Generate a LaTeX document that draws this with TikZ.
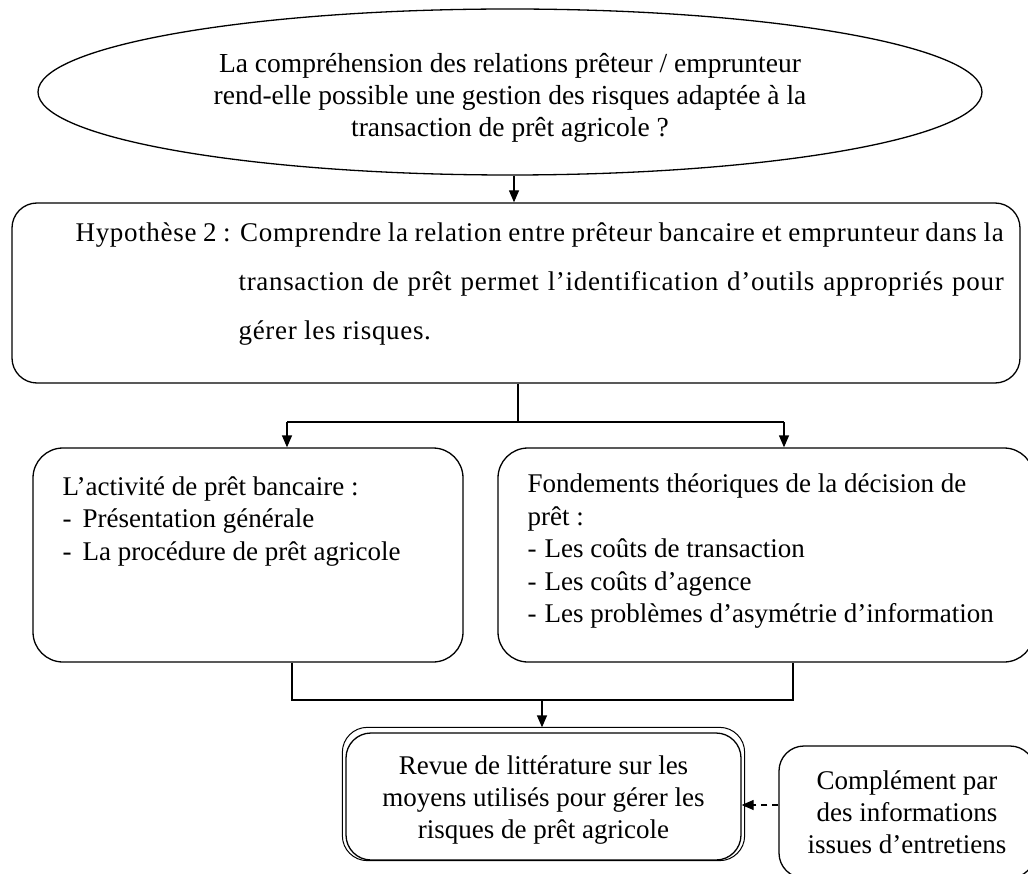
\documentclass[tikz,border=0pt]{standalone}
\usepackage{fontspec}
\setmainfont{Liberation Serif}
\usetikzlibrary{arrows.meta,shapes.geometric,calc}
\begin{document}
\begin{tikzpicture}[x=1pt,y=-1pt,
  line width=1.3pt,
  box/.style={draw,line width=1.3pt,rounded corners=#1,inner sep=0pt},
  txt/.style={inner sep=0pt,font=\fontsize{27}{32}\selectfont},
  wide/.style={inner sep=0pt,font=\fontsize{27}{32}\selectfont\addfontfeatures{LetterSpace=2.5}},
  arr/.style={-{Triangle[length=12pt,width=10pt]}},
]
\useasboundingbox (0,0) rectangle (1028,874);
\clip (0,0) rectangle (1028,874);

% question ellipse
\node[draw,ellipse,inner sep=0pt,minimum width=944pt,minimum height=166pt] (q) at (510,92) {};
\node[txt,align=center,font=\fontsize{27.5}{32}\selectfont] (qt) at (510,98) {La compréhension des relations prêteur / emprunteur\\rend-elle possible une gestion des risques adaptée à la\\transaction de prêt agricole ?};

% hypothesis box
\node[box=25pt,minimum width=1008pt,minimum height=180pt] (hyp) at (516,293) {};
\node[wide,anchor=base west] (h1) at (75,242) {\makebox[928pt][s]{Hypothèse 2 : Comprendre la relation entre prêteur bancaire et emprunteur dans la}};
\node[wide,anchor=base west] (h2) at (238,291) {\makebox[765pt][s]{transaction de prêt permet l’identification d’outils appropriés pour}};
\node[wide,anchor=base west] (h3) at (238,340) {gérer les risques.};

\draw[arr] (q.south -| 514,0) -- (hyp.north -| 514,0);

% two boxes
\node[box=30pt,minimum width=430pt,minimum height=214pt] (lb) at (248,555) {};
\node[box=30pt,minimum width=536pt,minimum height=214pt] (rb) at (766,555) {};

\coordinate (j1) at (518,422);
\draw (hyp.south -| j1) -- (j1);
\draw (287,422) -- (784,422);
\draw[arr] (287,422) -- (lb.north -| 287,0);
\draw[arr] (784,422) -- (rb.north -| 784,0);

\node[txt,anchor=base west] (l1) at (62,495) {L’activité de prêt bancaire :};
\node[txt,anchor=base west] (l2) at (62,527) {\makebox[20pt][l]{-}Présentation générale};
\node[txt,anchor=base west] (l3) at (62,560) {\makebox[20pt][l]{-}La procédure de prêt agricole};

\node[txt,anchor=base west] (r1) at (527,492) {Fondements théoriques de la décision de};
\node[txt,anchor=base west] (r2) at (527,525) {prêt :};
\node[txt,anchor=base west] (r3) at (527,557) {\makebox[17pt][l]{-}Les coûts de transaction};
\node[txt,anchor=base west] (r4) at (527,590) {\makebox[17pt][l]{-}Les coûts d’agence};
\node[txt,anchor=base west] (r5) at (527,622) {\makebox[17pt][l]{-}Les problèmes d’asymétrie d’information};

% bottom boxes
\node[box=25pt,minimum width=395pt,minimum height=127pt] (rev) at (543.5,796.5) {};
\draw[rounded corners=25pt,line width=1pt] ($(rev.south west)+(-3,0)$) rectangle ($(rev.north east)+(3,-5)$);
\node[txt,align=center] (revt) at (543.5,800) {Revue de littérature sur les\\moyens utilisés pour gérer les\\risques de prêt agricole};

\node[box=25pt,minimum width=256pt,minimum height=132pt] (comp) at (907,812) {};
\node[txt,align=center] (compt) at (907,812) {Complément par\\des informations\\issues d’entretiens};

\draw (lb.south -| 292,0) -- (292,700) -- (793,700) -- (rb.south -| 793,0);
\draw[arr] (542,700) -- ($(rev.north -| 542,0)+(0,-5)$);

\draw[arr,dash pattern=on 6pt off 5pt] ([yshift=7pt]comp.west) -- ([yshift=7pt]comp.west -| rev.east);
\end{tikzpicture}
\end{document}
